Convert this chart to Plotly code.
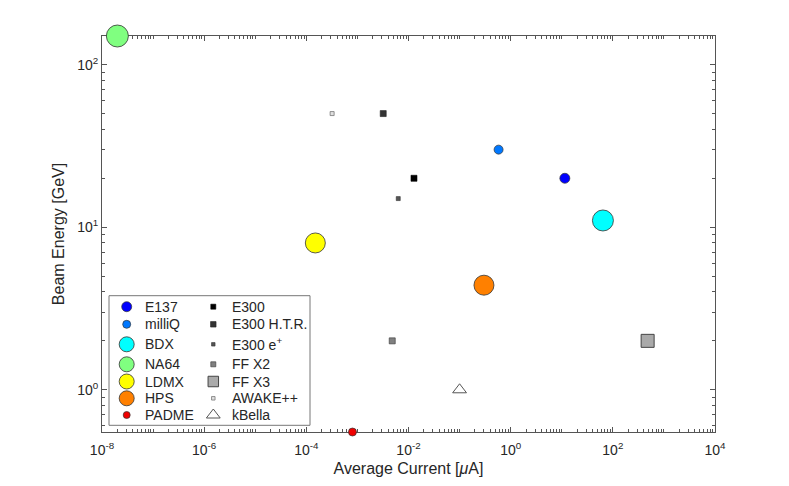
import plotly.graph_objects as go
import numpy as np

# ---- data ----
experiments = ["E137", "milliQ", "BDX", "NA64", "LDMX", "HPS", "PADME",
               "E300", "E300 H.T.R.", "E300 e<sup>+</sup>", "FF X2", "FF X3", "AWAKE++", "kBella"]
current_uA = [11.5, 0.58, 64, 2.0e-8, 1.5e-4, 0.3, 8.0e-4,
              0.0128, 0.0032, 0.0063, 0.0048, 480, 3.2e-4, 0.1]
energy_GeV = [20, 30, 11, 150, 8, 4.4, 0.55,
              20, 50, 15, 2, 2, 50, 1]

x_major = [1e-8, 1e-6, 1e-4, 1e-2, 1e0, 1e2, 1e4]
x_major_text = ["10<sup>-8</sup>", "10<sup>-6</sup>", "10<sup>-4</sup>", "10<sup>-2</sup>",
                "10<sup>0</sup>", "10<sup>2</sup>", "10<sup>4</sup>"]
y_major = [1, 10, 100]
y_major_text = ["10<sup>0</sup>", "10<sup>1</sup>", "10<sup>2</sup>"]

# ---- styles ----
styles = [
    dict(symbol="circle", size=10, color="rgb(0,0,255)", line="#333333", lw=0.7, lsize=10),
    dict(symbol="circle", size=9, color="rgb(0,120,255)", line="#333333", lw=0.7, lsize=8),
    dict(symbol="circle", size=21, color="rgb(0,255,255)", line="#333333", lw=0.8, lsize=15),
    dict(symbol="circle", size=22, color="rgb(128,255,128)", line="#333333", lw=0.8, lsize=15),
    dict(symbol="circle", size=20, color="rgb(255,255,0)", line="#333333", lw=0.8, lsize=15),
    dict(symbol="circle", size=20, color="rgb(255,128,0)", line="#333333", lw=0.8, lsize=15),
    dict(symbol="circle", size=8, color="rgb(240,0,0)", line="#333333", lw=0.7, lsize=7),
    dict(symbol="square", size=6, color="#000000", line="#000000", lw=0.6, lsize=5),
    dict(symbol="square", size=6, color="#333333", line="#222222", lw=0.6, lsize=5.5),
    dict(symbol="square", size=4, color="#555555", line="#333333", lw=0.6, lsize=3.5),
    dict(symbol="square", size=6, color="#808080", line="#444444", lw=0.7, lsize=5),
    dict(symbol="square", size=13, color="#aaaaaa", line="#444444", lw=1.0, lsize=10.5),
    dict(symbol="square", size=4, color="#e0e0e0", line="#777777", lw=0.8, lsize=3.5),
    dict(symbol="triangle-up", size=12, color="rgba(255,255,255,0)", line="#555555", lw=1.0, lsize=12),
]

# page layout (pixels in the 789x486 window; body has an 8px margin)
W, H = 781, 478
ML, MR, MT, MB = 94, 74, 28, 54
PX0, PX1 = 8 + ML, 8 + W - MR
PY0, PY1 = 8 + MT, 8 + H - MB   # top, bottom

fig = go.Figure()
for i, name in enumerate(experiments):
    s = styles[i]
    fig.add_trace(go.Scatter(
        x=[current_uA[i]], y=[energy_GeV[i]], mode="markers", name=name,
        marker=dict(symbol=s["symbol"], size=s["size"], color=s["color"], opacity=1,
                    line=dict(color=s["line"], width=s["lw"])),
        cliponaxis=False, showlegend=False,
    ))

# ---- custom legend (drawn in page-pixel overlay axes) ----
leg_rows = [306.7, 324.3, 344.3, 364.3, 381.5, 398.3, 415.0]
leg_sym_x = [126.7, 213.3]
leg_txt_x = [143.3, 230.0]
lx, ly, lsym, lsz, lcol, lline, llw = [], [], [], [], [], [], []
annotations = []
for i, name in enumerate(experiments):
    col, row = divmod(i, 7)
    s = styles[i]
    lx.append(leg_sym_x[col]); ly.append(leg_rows[row])
    lsym.append(s["symbol"]); lsz.append(s["lsize"]); lcol.append(s["color"])
    lline.append(s["line"]); llw.append(s["lw"])
    annotations.append(dict(x=leg_txt_x[col], y=leg_rows[row], xref="x2", yref="y2",
                            text=name, showarrow=False, xanchor="left", yanchor="middle",
                            font=dict(size=14, color="#262626")))
fig.add_trace(go.Scatter(
    x=lx, y=ly, xaxis="x2", yaxis="y2", mode="markers", showlegend=False,
    hoverinfo="skip", cliponaxis=False,
    marker=dict(symbol=lsym, size=lsz, color=lcol, opacity=1,
                line=dict(color=lline, width=llw)),
))

# minor tick positions
x_minor = []
for e in range(-8, 4):
    for k in range(1, 10):
        if k == 1 and e % 2 == 0:
            continue
        x_minor.append(k * 10.0 ** e)
y_minor = [0.6, 0.7, 0.8, 0.9] + [k * 10.0 ** e for e in (0, 1) for k in range(2, 10)]

axcol = "#555555"
txtcol = "#262626"
font = "Liberation Sans, Arial, sans-serif"

fig.update_layout(
    width=W, height=H,
    margin=dict(l=ML, r=MR, t=MT, b=MB),
    paper_bgcolor="white", plot_bgcolor="white",
    font=dict(family=font, size=14, color=txtcol),
    showlegend=False,
    xaxis=dict(type="log", range=[-8, 4], tickmode="array", tickvals=x_major,
               ticktext=x_major_text, ticks="inside", ticklen=5, tickcolor=axcol,
               showline=True, linecolor=axcol, linewidth=1, mirror="ticks",
               showgrid=False, zeroline=False, layer="below traces",
               tickfont=dict(size=14, color=txtcol), ticklabelstandoff=5,
               minor=dict(tickmode="array", tickvals=x_minor, ticks="inside",
                          ticklen=3, tickcolor=axcol, showgrid=False),
               title=dict(text="Average Current [<i>μ</i>A]", font=dict(size=16, color=txtcol),
                          standoff=6)),
    yaxis=dict(type="log", range=[np.log10(0.55), np.log10(150)], tickmode="array",
               tickvals=y_major, ticktext=y_major_text, ticks="inside", ticklen=5,
               tickcolor=axcol, showline=True, linecolor=axcol, linewidth=1,
               mirror="ticks", showgrid=False, zeroline=False, layer="below traces",
               tickfont=dict(size=14, color=txtcol),
               minor=dict(tickmode="array", tickvals=y_minor, ticks="inside",
                          ticklen=3, tickcolor=axcol, showgrid=False),
               title=dict(text="Beam Energy [GeV]", font=dict(size=16, color=txtcol),
                          standoff=8)),
    xaxis2=dict(overlaying="x", range=[PX0, PX1], visible=False, fixedrange=True),
    yaxis2=dict(overlaying="y", range=[PY1, PY0], visible=False, fixedrange=True),
    annotations=annotations,
    shapes=[dict(type="rect", xref="x2", yref="y2",
                 x0=109, x1=310, y0=295.7, y1=425.3,
                 line=dict(color="#777777", width=1), fillcolor="white", layer="below")],
)

fig.write_html("out.html")
